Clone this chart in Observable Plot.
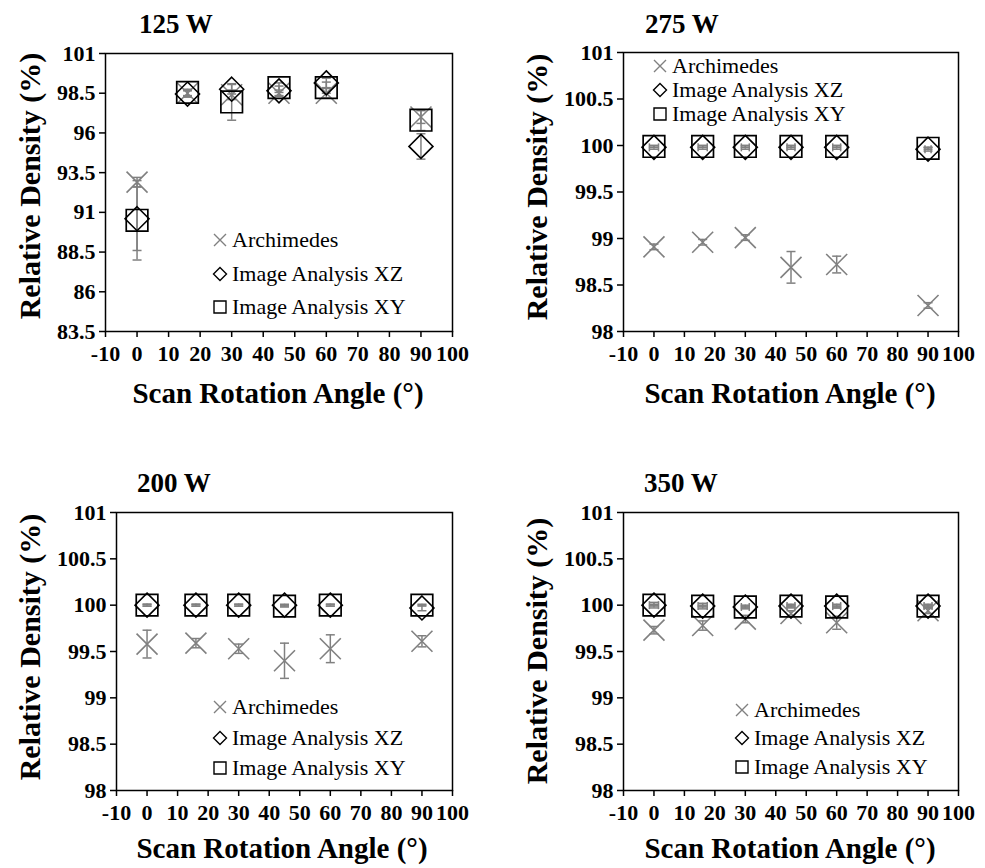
<!DOCTYPE html>
<html><head><meta charset="utf-8">
<script src="https://cdn.jsdelivr.net/npm/d3@7"></script>
<script src="https://cdn.jsdelivr.net/npm/@observablehq/plot@0.6"></script>
<style>
body{margin:0;background:#fff;}
#root{position:relative;width:985px;height:868px;overflow:hidden;background:#fff;font-family:"Liberation Serif","Times New Roman",serif;color:#000;}
.abs{position:absolute;white-space:nowrap;line-height:1;}
.title{font-weight:bold;font-size:27px;}
.xlab{font-weight:bold;font-size:29px;transform:translateX(-50%);}
.ylab{font-weight:bold;font-size:30px;transform:translate(-50%,-50%) rotate(-90deg);}
.legtext{font-size:22px;line-height:18px;}
.panel svg{overflow:visible;}
</style>
</head><body>
<div id="root"></div>
<script>
// ---------- data ----------
const angles = [0, 16, 30, 45, 60, 90];
const xTicks = [-10, 0, 10, 20, 30, 40, 50, 60, 70, 80, 90, 100];
const seriesNames = ["Archimedes", "Image Analysis XZ", "Image Analysis XY"];
const panelTitles = ["125 W", "275 W", "200 W", "350 W"];
const xLabel = "Scan Rotation Angle (°)";
const yLabel = "Relative Density (%)";

const yTicks125 = [83.5, 86, 88.5, 91, 93.5, 96, 98.5, 101];
const yTicksHigh = [98, 98.5, 99, 99.5, 100, 100.5, 101];

// 125 W
const arch125 = [92.9, 98.5, 98.4, 98.5, 98.5, 97.0];
const arch125Err = [0.3, 0.2, 0.3, 0.2, 0.3, 0.4];
const xz125 = [90.6, 98.45, 98.75, 98.65, 99.15, 95.15];
const xz125Err = [2.0, 0.2, 0.3, 0.3, 0.3, 0.8];
const xy125 = [90.5, 98.55, 97.95, 98.85, 98.85, 96.8];
const xy125Err = [2.5, 0.2, 1.15, 0.3, 0.35, 0.65];

// 275 W
const arch275 = [98.91, 98.96, 99.01, 98.69, 98.72, 98.28];
const arch275Err = [0.03, 0.03, 0.03, 0.17, 0.09, 0.03];
const xz275 = [99.98, 99.98, 99.98, 99.98, 99.98, 99.96];
const xz275Err = [0.02, 0.02, 0.02, 0.02, 0.02, 0.02];
const xy275 = [99.99, 99.99, 99.99, 99.99, 99.99, 99.97];
const xy275Err = [0.01, 0.01, 0.01, 0.01, 0.01, 0.01];
const img275XErr = [1.5, 1.5, 1.3, 1.3, 1.3, 1.0];

// 200 W
const arch200 = [99.58, 99.59, 99.53, 99.40, 99.53, 99.61];
const arch200Err = [0.15, 0.05, 0.05, 0.19, 0.15, 0.06];
const xz200 = [100.0, 100.0, 100.0, 100.0, 100.0, 99.97];
const xz200Err = [0.01, 0.01, 0.01, 0.01, 0.01, 0.03];
const xy200 = [100.0, 100.0, 100.0, 99.99, 100.0, 100.0];
const xy200Err = [0.01, 0.01, 0.01, 0.01, 0.01, 0.01];

// 350 W
const arch350 = [99.73, 99.78, 99.85, 99.91, 99.81, 99.94];
const arch350Err = [0.04, 0.05, 0.04, 0.03, 0.07, 0.03];
const xz350 = [100.0, 99.99, 99.98, 99.99, 99.99, 99.99];
const xz350Err = [0.03, 0.03, 0.02, 0.02, 0.02, 0.02];
const xy350 = [100.0, 99.99, 99.98, 99.99, 99.98, 99.99];
const xy350Err = [0.01, 0.01, 0.01, 0.01, 0.01, 0.01];
const img350XErr = [1.5, 1.5, 1.3, 1.3, 1.3, 1.3];

// ---------- styling / layout ----------
const GRAY = "#808080";
const panels = [
  {title: panelTitles[0], yDomain: [83.5, 101], yTicks: yTicks125,
   arch: arch125, archErr: arch125Err, xz: xz125, xzErr: xz125Err, xy: xy125, xyErr: xy125Err, xErr: null,
   L: {left: 0, top: 0, w: 480, h: 370, ml: 105, mr: 28, mt: 53, mb: 39},
   titlePos: [139, 11], xlab: [278, 379], ylab: [30, 186], leg: {mx: 220, tx: 232, rows: [240, 274, 307]}},
  {title: panelTitles[1], yDomain: [98, 101], yTicks: yTicksHigh,
   arch: arch275, archErr: arch275Err, xz: xz275, xzErr: xz275Err, xy: xy275, xyErr: xy275Err, xErr: img275XErr,
   L: {left: 480, top: 0, w: 505, h: 370, ml: 143, mr: 27, mt: 52, mb: 39},
   titlePos: [645, 11], xlab: [790, 379], ylab: [537, 187], leg: {mx: 660, tx: 672, rows: [66, 90, 114]}},
  {title: panelTitles[2], yDomain: [98, 101], yTicks: yTicksHigh,
   arch: arch200, archErr: arch200Err, xz: xz200, xzErr: xz200Err, xy: xy200, xyErr: xy200Err, xErr: null,
   L: {left: 0, top: 440, w: 480, h: 390, ml: 116, mr: 28, mt: 72, mb: 40},
   titlePos: [137, 470], xlab: [282, 834], ylab: [30, 647], leg: {mx: 220, tx: 232, rows: [707, 738, 768]}},
  {title: panelTitles[3], yDomain: [98, 101], yTicks: yTicksHigh,
   arch: arch350, archErr: arch350Err, xz: xz350, xzErr: xz350Err, xy: xy350, xyErr: xy350Err, xErr: img350XErr,
   L: {left: 480, top: 440, w: 505, h: 390, ml: 143, mr: 27, mt: 72, mb: 40},
   titlePos: [644, 470], xlab: [790, 834], ylab: [537, 651], leg: {mx: 742, tx: 754, rows: [710, 738, 767]}}
];

// custom symbols (r = half extent)
const rad = size => Math.sqrt(size / Math.PI);
const symTimes = {draw(c, s) { const r = rad(s); c.moveTo(-r, -r); c.lineTo(r, r); c.moveTo(-r, r); c.lineTo(r, -r); }};
const symDiamond = {draw(c, s) { const r = rad(s); c.moveTo(0, -r); c.lineTo(r, 0); c.lineTo(0, r); c.lineTo(-r, 0); c.closePath(); }};
const symSquare = {draw(c, s) { const r = rad(s); c.rect(-r, -r, 2 * r, 2 * r); }};
const symHCap = {draw(c, s) { const r = rad(s); c.moveTo(-r, 0); c.lineTo(r, 0); }};
const symVCap = {draw(c, s) { const r = rad(s); c.moveTo(0, -r); c.lineTo(0, r); }};
const seriesSym = [symTimes, symDiamond, symSquare];
const seriesColor = [GRAY, "#000", "#000"];

const root = document.getElementById("root");

function addDiv(cls, text, left, top) {
  const d = document.createElement("div");
  d.className = "abs " + cls;
  d.textContent = text;
  d.style.left = left + "px";
  d.style.top = top + "px";
  root.appendChild(d);
  return d;
}

panels.forEach(p => {
  const rows = [];
  angles.forEach((a, i) => {
    rows.push({angle: a, s: 0, v: p.arch[i], e: p.archErr[i], xe: 0});
    rows.push({angle: a, s: 1, v: p.xz[i], e: p.xzErr[i], xe: p.xErr ? p.xErr[i] : 0});
    rows.push({angle: a, s: 2, v: p.xy[i], e: p.xyErr[i], xe: 0});
  });
  const yRows = rows.filter(d => d.e > 0);
  const xRows = rows.filter(d => d.xe > 0);
  const L = p.L;
  const chart = Plot.plot({
    width: L.w, height: L.h,
    marginLeft: L.ml, marginRight: L.mr, marginTop: L.mt, marginBottom: L.mb,
    x: {domain: [-10, 100]},
    y: {domain: p.yDomain},
    style: {fontFamily: "'Liberation Serif','Times New Roman',serif", color: "#000", background: "transparent", overflow: "visible"},
    marks: [
      Plot.axisX({ticks: xTicks, tickFormat: d => String(d), tickSize: 6, tickPadding: 8, fontSize: 22, fontWeight: "bold", strokeWidth: 1.5, label: null}),
      Plot.axisY({ticks: p.yTicks, tickFormat: d => String(d), tickSize: 6, tickPadding: 4, fontSize: 22, fontWeight: "bold", strokeWidth: 1.5, label: null}),
      // vertical error bars
      Plot.ruleX(yRows, {x: "angle", y1: d => d.v - d.e, y2: d => d.v + d.e, stroke: GRAY, strokeWidth: 1.5}),
      Plot.dot(yRows, {x: "angle", y: d => d.v - d.e, symbol: symHCap, r: 4.5, stroke: GRAY, fill: "none", strokeWidth: 1.5}),
      Plot.dot(yRows, {x: "angle", y: d => d.v + d.e, symbol: symHCap, r: 4.5, stroke: GRAY, fill: "none", strokeWidth: 1.5}),
      // horizontal error bars
      Plot.ruleY(xRows, {y: "v", x1: d => d.angle - d.xe, x2: d => d.angle + d.xe, stroke: GRAY, strokeWidth: 1.5}),
      Plot.dot(xRows, {x: d => d.angle - d.xe, y: "v", symbol: symVCap, r: 4, stroke: GRAY, fill: "none", strokeWidth: 1.5}),
      Plot.dot(xRows, {x: d => d.angle + d.xe, y: "v", symbol: symVCap, r: 4, stroke: GRAY, fill: "none", strokeWidth: 1.5}),
      // markers
      Plot.dot(rows.filter(d => d.s === 0), {x: "angle", y: "v", symbol: symTimes, r: 10.5, stroke: GRAY, fill: "none", strokeWidth: 1.6}),
      Plot.dot(rows.filter(d => d.s === 1), {x: "angle", y: "v", symbol: symDiamond, r: 12, stroke: "#000", fill: "none", strokeWidth: 1.6}),
      Plot.dot(rows.filter(d => d.s === 2), {x: "angle", y: "v", symbol: symSquare, r: 10.8, stroke: "#000", fill: "none", strokeWidth: 1.7}),
      Plot.frame({stroke: "#000", strokeWidth: 1.5})
    ]
  });
  const wrap = document.createElement("div");
  wrap.className = "panel";
  wrap.style.position = "absolute";
  wrap.style.left = L.left + "px";
  wrap.style.top = L.top + "px";
  wrap.appendChild(chart);
  root.appendChild(wrap);

  addDiv("title", p.title, p.titlePos[0], p.titlePos[1]);
  addDiv("xlab", xLabel, p.xlab[0], p.xlab[1]);
  addDiv("ylab", yLabel, p.ylab[0], p.ylab[1]);

  // legend
  seriesNames.forEach((name, k) => {
    const cy = p.leg.rows[k];
    const svg = d3.create("svg").attr("width", 16).attr("height", 16)
      .style("position", "absolute").style("left", (p.leg.mx - 8) + "px").style("top", (cy - 8) + "px").style("overflow", "visible");
    const size = Math.PI * (k === 1 ? 6.5 : 6) ** 2;
    svg.append("path").attr("transform", "translate(8,8)")
      .attr("d", d3.symbol(seriesSym[k], size)())
      .attr("fill", "none").attr("stroke", seriesColor[k]).attr("stroke-width", 1.4);
    root.appendChild(svg.node());
    addDiv("legtext", name, p.leg.tx, cy - 9);
  });
});
</script>
</body></html>
